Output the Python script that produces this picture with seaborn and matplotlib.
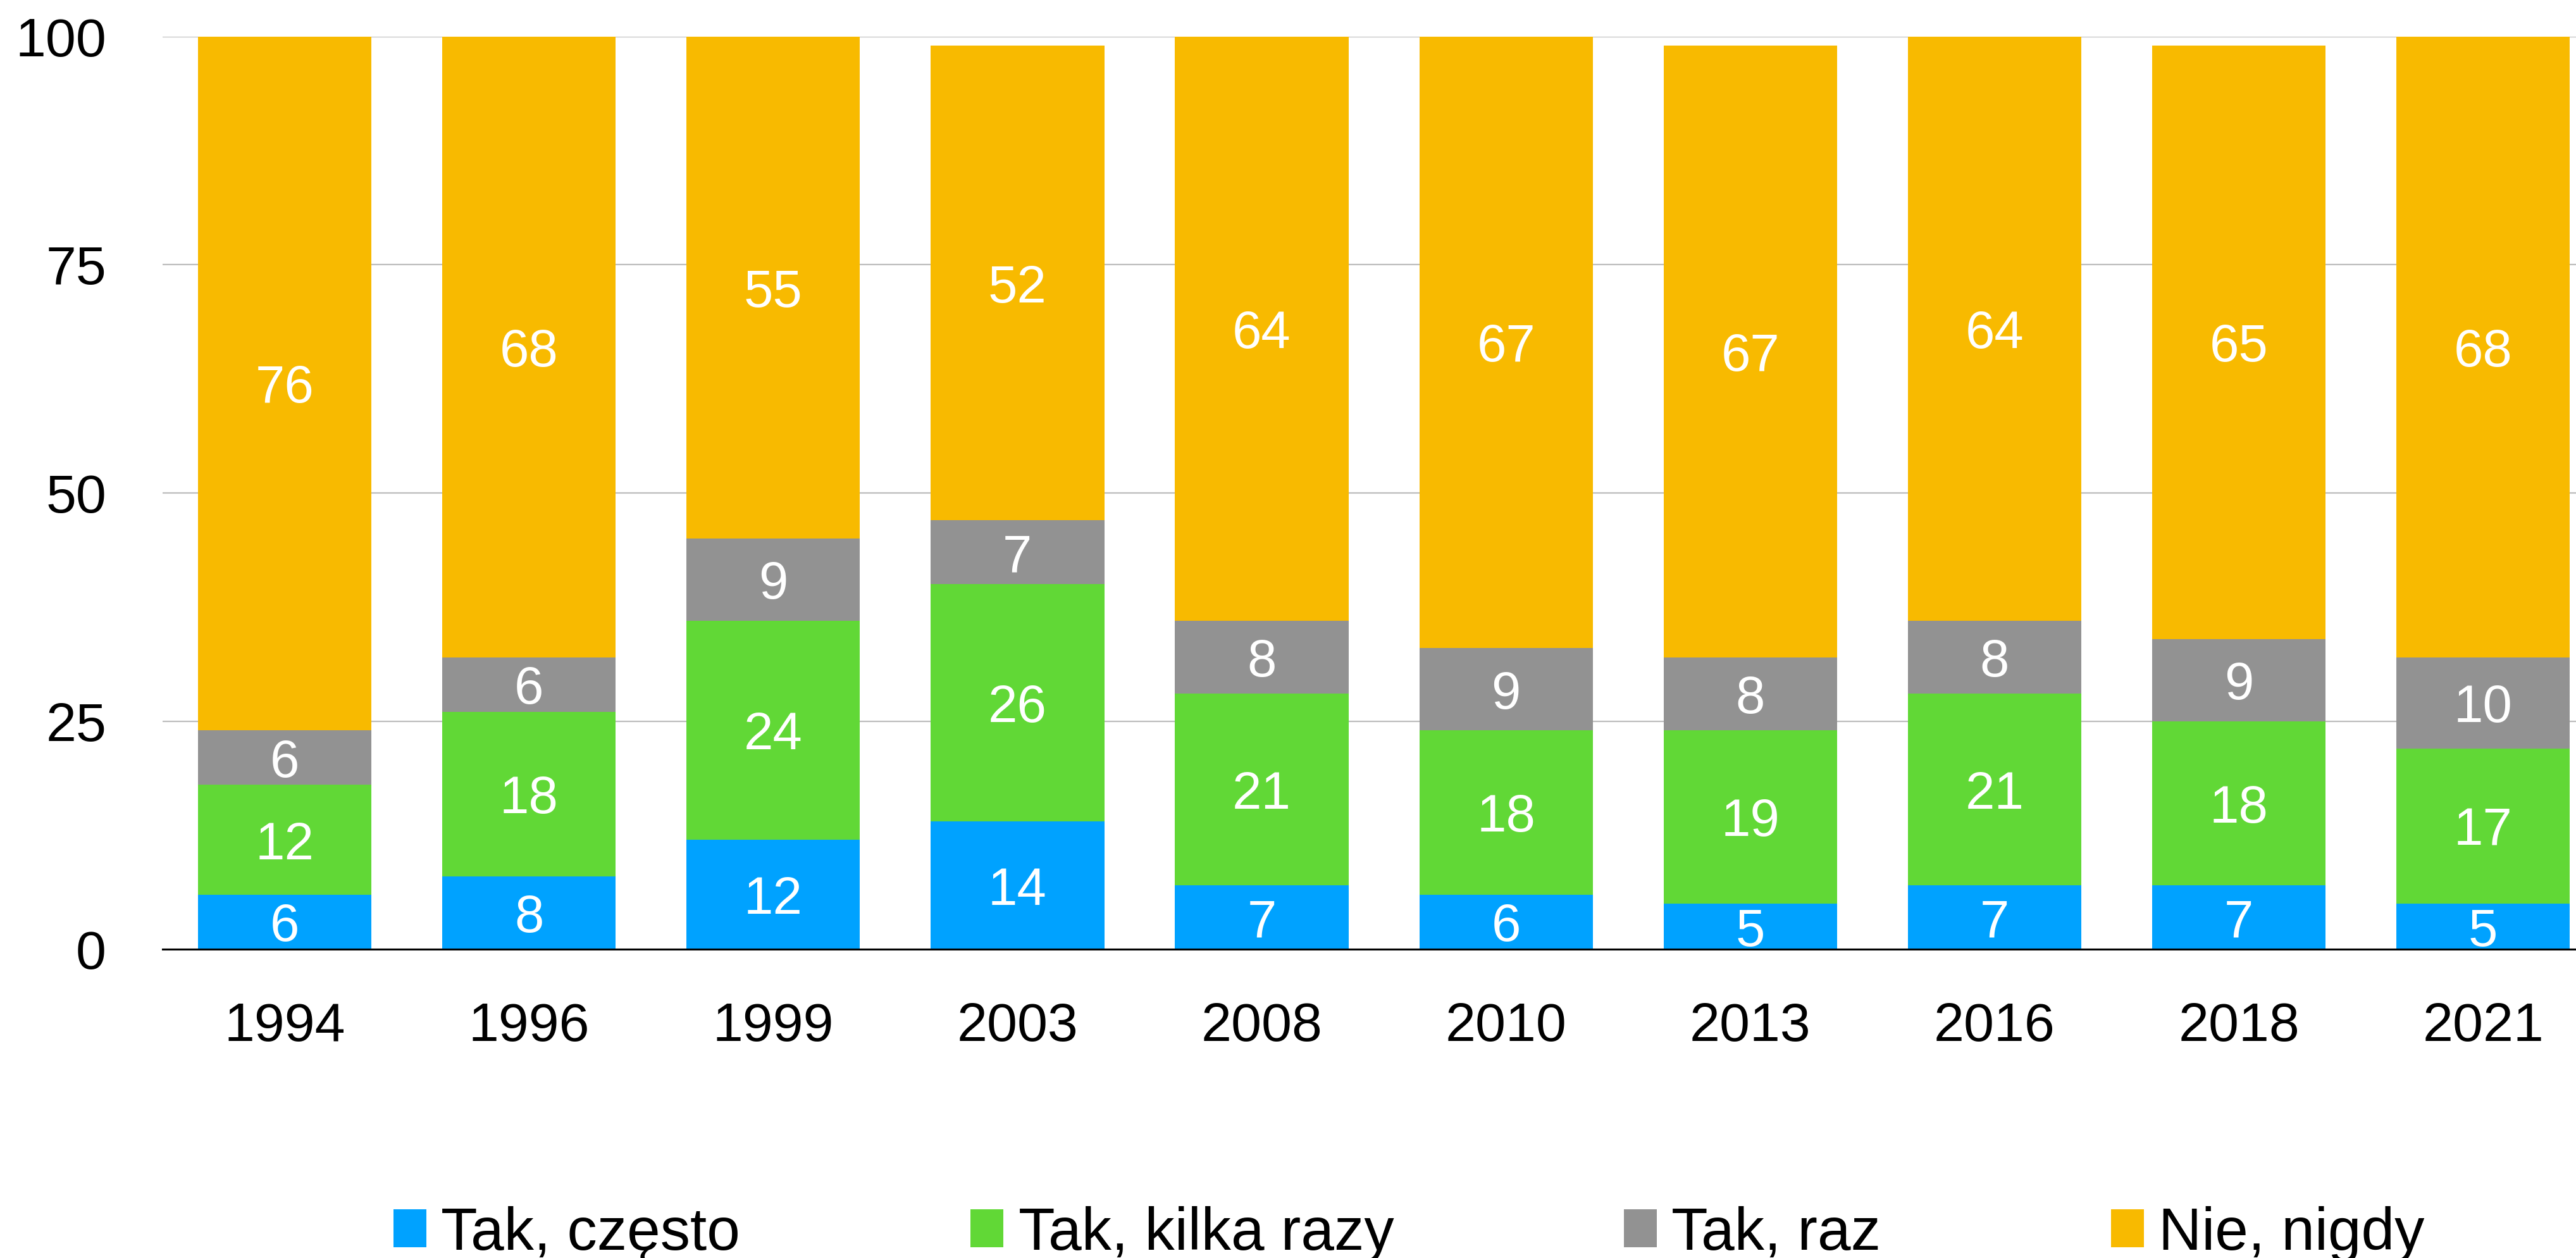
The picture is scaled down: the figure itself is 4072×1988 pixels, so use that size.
import numpy as np
import pandas as pd
import matplotlib
matplotlib.use("Agg")
import matplotlib.pyplot as plt
from matplotlib.patches import Patch
import seaborn as sns

# data (percent)
years = ["1994", "1996", "1999", "2003", "2008", "2010", "2013", "2016", "2018", "2021"]
series_names = ["Tak, często", "Tak, kilka razy", "Tak, raz", "Nie, nigdy"]
tak_czesto = [6, 8, 12, 14, 7, 6, 5, 7, 7, 5]
tak_kilka_razy = [12, 18, 24, 26, 21, 18, 19, 21, 18, 17]
tak_raz = [6, 6, 9, 7, 8, 9, 8, 8, 9, 10]
nie_nigdy = [76, 68, 55, 52, 64, 67, 67, 64, 65, 68]
colors = ["#00A2FF", "#61D836", "#929292", "#F8BA00"]

sns.set_theme(style="white")
plt.rcParams["font.family"] = ["Liberation Sans", "DejaVu Sans"]

values = np.array([tak_czesto, tak_kilka_razy, tak_raz, nie_nigdy], dtype=float)
cum = values.cumsum(axis=0)
bottoms = cum - values

fig = plt.figure(figsize=(20.36, 9.94), dpi=200)
ax = fig.add_axes([0.0631, 0.2454, 0.9369, 0.7256])

# stacked bars: draw cumulative totals from the top series down
for i in range(len(series_names) - 1, -1, -1):
    df = pd.DataFrame({"year": years, "value": cum[i]})
    sns.barplot(data=df, x="year", y="value", color=colors[i], width=0.71,
                saturation=1, linewidth=0, errorbar=None, ax=ax, zorder=2)

# value labels centred in each segment
for i in range(len(series_names)):
    for j in range(len(years)):
        ax.text(j, bottoms[i, j] + values[i, j] / 2, f"{values[i, j]:.0f}",
                ha="center", va="center_baseline", color="white", fontsize=30, zorder=3)

ax.set_xlim(-0.5, 9.38)
ax.set_ylim(0, 100)
ax.set_yticks([0, 25, 50, 75, 100])
ax.set_xlabel("")
ax.set_ylabel("")
ax.yaxis.grid(True, color="#BDBDBD", linewidth=0.8, zorder=0)
ax.set_axisbelow(True)
for side in ["left", "right", "top"]:
    ax.spines[side].set_visible(False)
ax.spines["bottom"].set_color("black")
ax.spines["bottom"].set_linewidth(1.1)
ax.spines["bottom"].set_zorder(4)
ax.tick_params(axis="both", length=0, labelsize=31, colors="black")
ax.tick_params(axis="x", pad=30)
ax.tick_params(axis="y", pad=32)

handles = [Patch(facecolor=c, edgecolor="none") for c in colors]
fig.legend(handles, series_names, loc="center", bbox_to_anchor=(0.547, 0.019),
           ncol=4, frameon=False, fontsize=34, handlelength=0.55, handleheight=0.6,
           handletextpad=0.25, columnspacing=3.85, labelcolor="black")

fig.savefig("out.png", dpi=200)
